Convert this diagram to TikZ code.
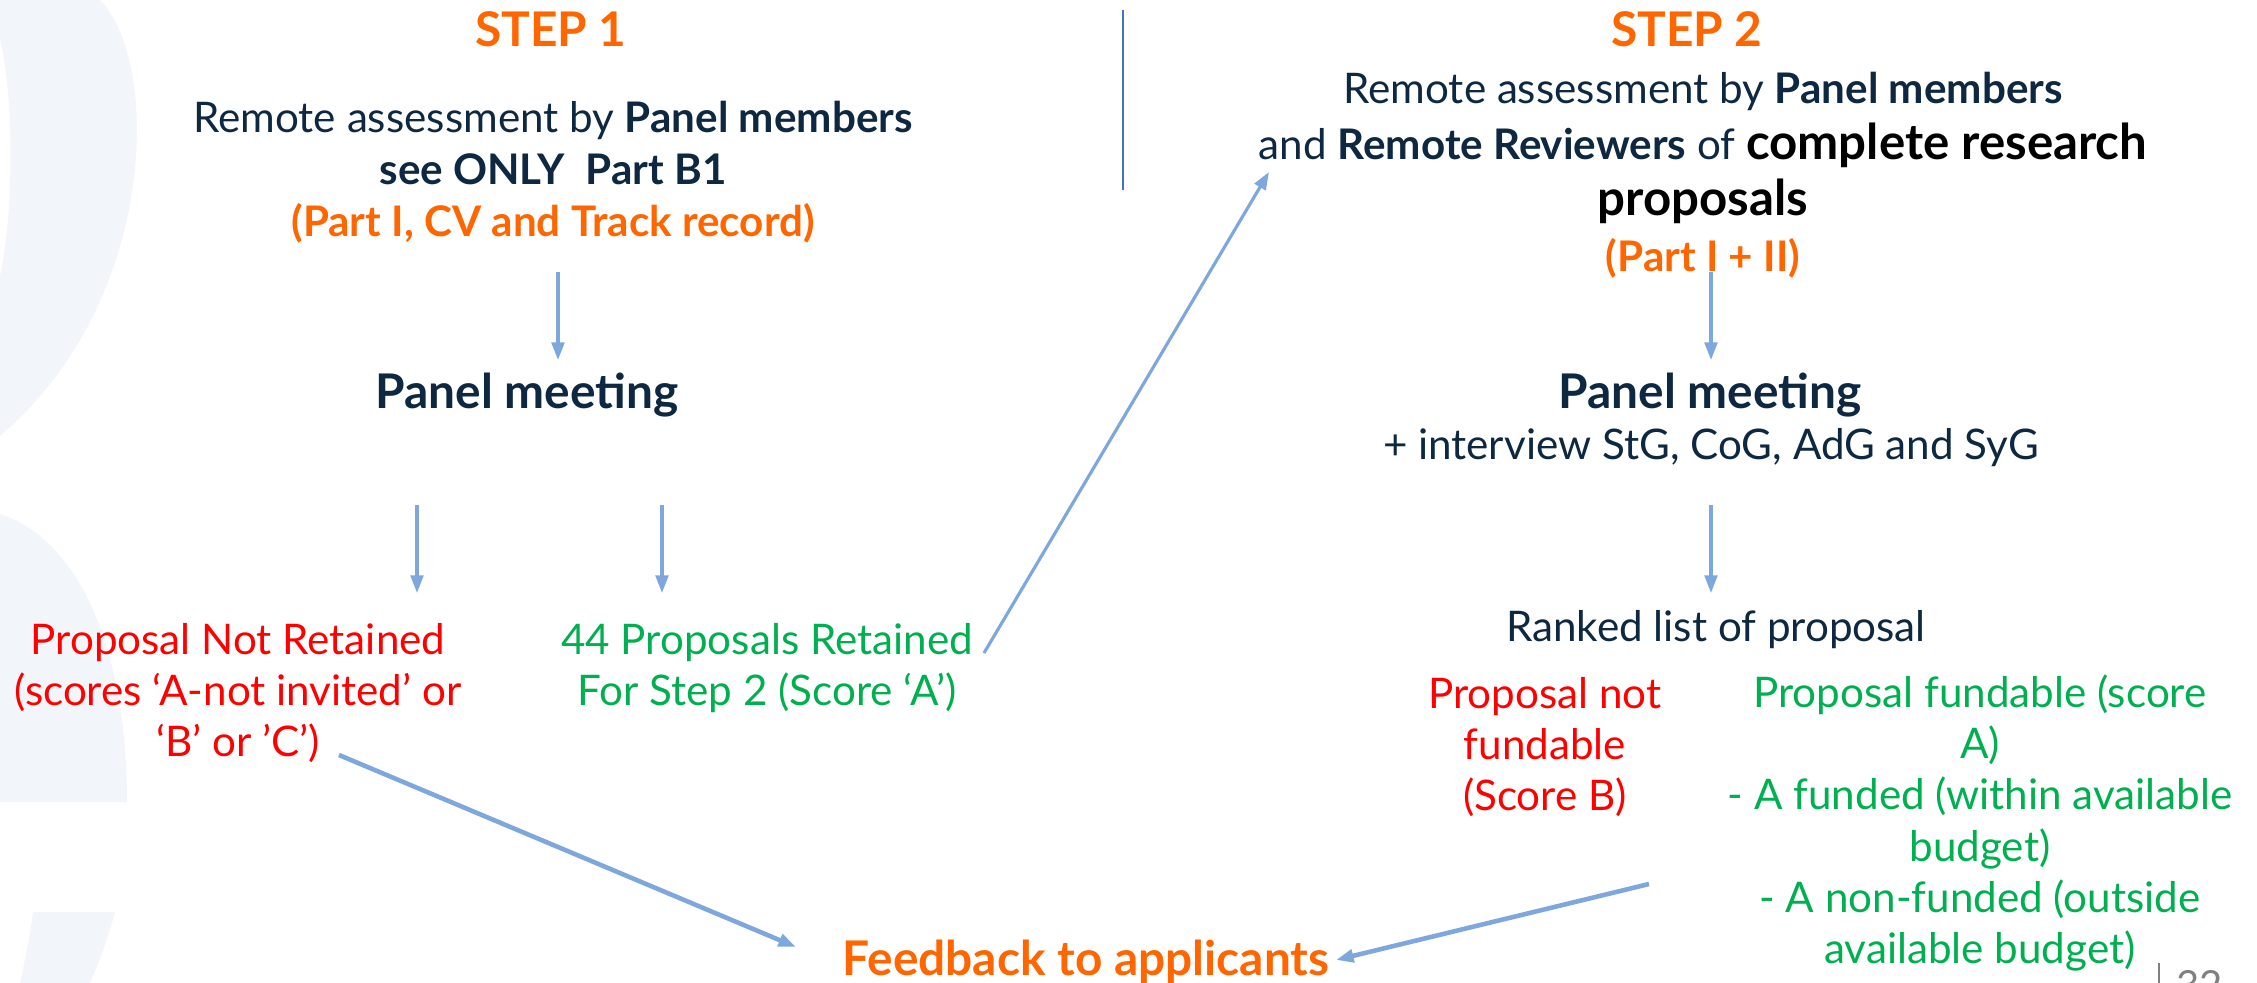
\documentclass[tikz,border=0pt]{standalone}
\usepackage{fontspec}
\setmainfont{Lato}
\usetikzlibrary{arrows.meta}

\definecolor{navy}{RGB}{14,40,65}
\definecolor{ercorange}{RGB}{255,102,0}
\definecolor{ercred}{RGB}{255,0,0}
\definecolor{ercgreen}{RGB}{0,176,80}
\definecolor{arrowblue}{RGB}{125,167,221}
\definecolor{divblue}{RGB}{68,114,196}
\definecolor{logotint}{RGB}{242,246,250}

\tikzstyle{title}=[text=ercorange,
                   inner sep=0pt,
                   font=\fontsize{13.6}{17}\selectfont\bfseries]
\tikzstyle{head}=[text=navy,
                  inner sep=0pt,
                  font=\fontsize{13.6}{17}\selectfont\bfseries]
\tikzstyle{txt}=[text=navy,
                 align=center,
                 inner sep=0pt,
                 font=\fontsize{12}{14.6}\selectfont]
\tikzstyle{bad}=[txt, text=ercred]
\tikzstyle{good}=[txt, text=ercgreen]
\tikzstyle{arr}=[-{Triangle[length=5pt,width=3.6pt]},
                 draw=arrowblue,
                 line width=0.9pt]

\begin{document}
\begin{tikzpicture}[x=0.1mm,y=-0.1mm]
\useasboundingbox (0,0) rectangle (2257,983);

% faint logo in the background
\fill[logotint] (0,0) -- (100,0) .. controls (160,60) and (160,300) .. (0,436)
      -- (0,276) .. controls (14,210) and (14,100) .. (0,38) -- cycle;
\fill[logotint] (0,514) .. controls (80,540) and (127,650) .. (127,802) -- (0,802) -- cycle;
\fill[logotint] (33,912) -- (115,912) .. controls (105,950) and (95,970) .. (90,983)
      -- (20,983) .. controls (25,960) and (30,935) .. (33,912) -- cycle;

% step 1
\node[title] (step1) at (551,29) {STEP 1};
\node[txt, font=\fontsize{12}{14.8}\selectfont] (rem1) at (553,172)
  {Remote assessment by \textbf{Panel members}\\
   \textbf{see ONLY\ \ Part B1}\\
   \textcolor{ercorange}{\textbf{(Part I, CV and Track record)}}};
\node[head] (panel1) at (527,395) {Panel meeting};
\node[bad] (notret) at (238,693)
  {Proposal Not Retained\\ (scores ‘A-not invited’ or\\ ‘B’ or ’C’)};
\node[good] (retained) at (767,668)
  {44 Proposals Retained\\ For Step 2 (Score ‘A’)};

% divider
\draw[divblue, line width=0.6pt] (1123,10) -- (1123,190);

% step 2
\node[title] (step2) at (1687,29) {STEP 2};
\node[txt, font=\fontsize{12}{15.9}\selectfont] (rem2) at (1703,175)
  {Remote assessment by \textbf{Panel members}\\
   and \textbf{Remote Reviewers} of {\color{black}\fontsize{14}{15.9}\selectfont\bfseries complete research}\\
   {\color{black}\fontsize{14}{15.9}\selectfont\bfseries proposals}\\
   \textcolor{ercorange}{\textbf{(Part I + II)}}};
\node[head] (panel2) at (1710,395) {Panel meeting};
\node[txt] (interview) at (1711,448) {+ interview StG, CoG, AdG and SyG};
\node[txt] (ranked) at (1716,630) {Ranked list of proposal};
\node[bad] (notfund) at (1545,747) {Proposal not\\ fundable\\ (Score B)};
\node[good] (fundable) at (1980,823)
  {Proposal fundable (score\\ A)\\ - A funded (within available\\ budget)\\
   - A non-funded (outside\\ available budget)};

% outcome
\node[title] (feedback) at (1086,962) {Feedback to applicants};

% page number
\draw[gray] (2159,963) -- (2159,990);
\node[anchor=north west, inner sep=0pt, text=gray,
      font=\fontsize{11.4}{14}\selectfont] (page) at (2176,970) {32};

% paths
\draw[arr] ([shift={(5,100)}]rem1.center) -- ++(0,88);
\draw[arr] ([shift={(-110,110)}]panel1.center) -- ++(0,88);
\draw[arr] ([shift={(135,110)}]panel1.center) -- ++(0,88);
\draw[arr] ([shift={(217,-15)}]retained.center) -- ([shift={(11,-3)}]rem2.west);
\draw[arr] ([shift={(8,97)}]rem2.center) -- ++(0,88);
\draw[arr] ([shift={(1,110)}]panel2.center) -- ++(0,88);
\draw[arr, line width=1.3pt] ([shift={(101,62)}]notret.center) -- ([shift={(-46,-15)}]feedback.west);
\draw[arr, line width=1.3pt] ([shift={(-331,61)}]fundable.center) -- ([shift={(6,-2)}]feedback.east);

\end{tikzpicture}
\end{document}
